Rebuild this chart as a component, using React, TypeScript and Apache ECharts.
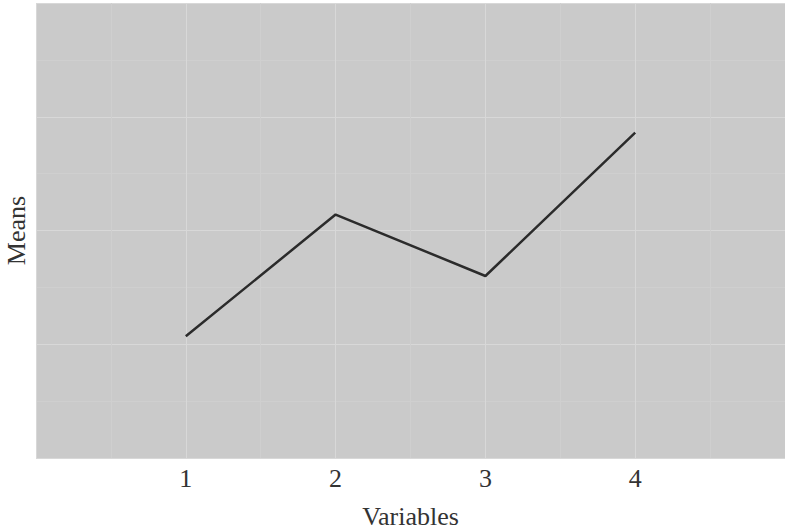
import React, { useEffect, useRef } from "react";
import * as echarts from "echarts";

const variables = [1, 2, 3, 4];
const means = [1.07, 2.14, 1.6, 2.86];
const xTicks = [1, 2, 3, 4];

export default function App() {
  const ref = useRef<HTMLDivElement>(null);
  useEffect(() => {
    document.body.style.margin = "0";
    const chart = echarts.init(ref.current!, null, { renderer: "svg" });
    const font = "'Liberation Serif', 'DejaVu Serif', serif";
    chart.setOption({
      animation: false,
      backgroundColor: "#ffffff",
      grid: {
        left: 36,
        right: 0,
        top: 3,
        bottom: 74,
        containLabel: false,
        outerBoundsMode: "none",
        show: true,
        backgroundColor: "#cacaca",
        borderWidth: 0,
      },
      xAxis: {
        type: "value",
        min: 0,
        max: 5,
        interval: 1,
        name: "Variables",
        nameLocation: "middle",
        nameGap: 45,
        nameTextStyle: { fontFamily: font, fontSize: 26, color: "#333" },
        axisLine: { show: false },
        axisTick: { show: false },
        axisLabel: {
          fontFamily: font,
          fontSize: 26,
          color: "#333",
          margin: 7,
          formatter: (v: number) => (xTicks.includes(v) ? String(v) : ""),
        },
        splitLine: { show: true, lineStyle: { color: "#d8d8d8", width: 1 } },
        minorTick: { show: false, splitNumber: 2 },
        minorSplitLine: { show: true, lineStyle: { color: "#cfcfcf", width: 1 } },
      },
      yAxis: {
        type: "value",
        min: 0,
        max: 4,
        interval: 1,
        name: "Means",
        nameLocation: "middle",
        nameGap: 8,
        nameRotate: 90,
        nameTextStyle: { fontFamily: font, fontSize: 26, lineHeight: 24, color: "#333" },
        axisLine: { show: false },
        axisTick: { show: false },
        axisLabel: { show: false },
        splitLine: { show: true, lineStyle: { color: "#d8d8d8", width: 1 } },
        minorTick: { show: false, splitNumber: 2 },
        minorSplitLine: { show: true, lineStyle: { color: "#cfcfcf", width: 1 } },
      },
      series: [
        {
          type: "line",
          data: variables.map((v, i) => [v, means[i]]),
          symbol: "none",
          lineStyle: { color: "#2b2b2b", width: 2.5 },
        },
      ],
    });
    return () => chart.dispose();
  }, []);
  return <div ref={ref} style={{ width: 785, height: 532 }} />;
}
